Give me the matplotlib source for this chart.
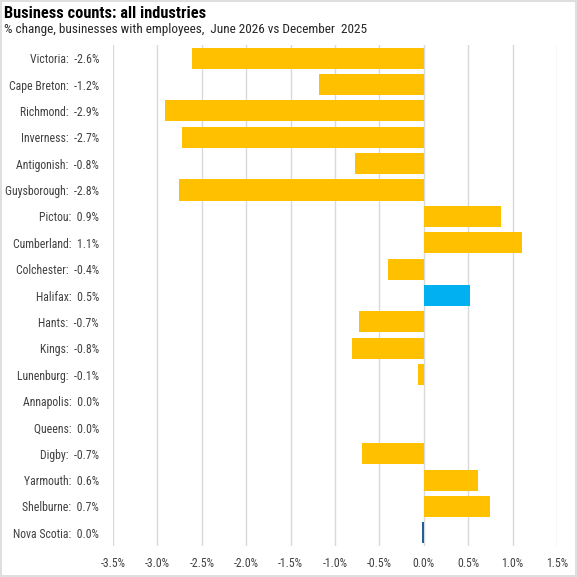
import matplotlib
matplotlib.use("Agg")
from matplotlib import pyplot as plt
from matplotlib.ticker import FuncFormatter

regions = ["Victoria", "Cape Breton", "Richmond", "Inverness", "Antigonish",
           "Guysborough", "Pictou", "Cumberland", "Colchester", "Halifax",
           "Hants", "Kings", "Lunenburg", "Annapolis", "Queens", "Digby",
           "Yarmouth", "Shelburne", "Nova Scotia"]
pct_change = [-2.61, -1.18, -2.91, -2.72, -0.77, -2.76, 0.87, 1.11, -0.40, 0.52,
              -0.73, -0.81, -0.06, 0.0, 0.0, -0.70, 0.61, 0.74, -0.02]
shown = [-2.6, -1.2, -2.9, -2.7, -0.8, -2.8, 0.9, 1.1, -0.4, 0.5,
         -0.7, -0.8, -0.1, 0.0, 0.0, -0.7, 0.6, 0.7, 0.0]
x_ticks = [-3.5, -3.0, -2.5, -2.0, -1.5, -1.0, -0.5, 0.0, 0.5, 1.0, 1.5]

plt.rcParams['font.family'] = ['Liberation Sans Narrow', 'Roboto Condensed', 'DejaVu Sans']
plt.rcParams['font.stretch'] = 'condensed'

colors = []
for r in regions:
    if r == "Halifax":
        colors.append("#00B0F0")
    elif r == "Nova Scotia":
        colors.append("#1F5F9E")
    else:
        colors.append("#FFC000")

fig = plt.figure(figsize=(5.77, 5.77), dpi=100)
ax = fig.add_axes([113/577, 1 - 546/577, 444/577, 501/577])

ypos = list(range(len(regions)))
ax.barh(ypos, pct_change, height=0.8, color=colors, zorder=3)
ax.set_ylim(len(regions) - 0.5, -0.5)
ax.set_xlim(-3.5, 1.5)
ax.set_xticks(x_ticks)
ax.xaxis.set_major_formatter(FuncFormatter(lambda v, p: f"{v:.1f}%"))
ax.set_yticks(ypos)
ax.set_yticklabels([f"{r}:  {v:.1f}%" for r, v in zip(regions, shown)])
ax.tick_params(length=0, labelsize=8.5, colors="#404040")
ax.tick_params(axis="x", pad=8)
ax.tick_params(axis="y", pad=10)
ax.grid(axis="x", color="#D9D9D9", linewidth=1, zorder=0)
for s in ax.spines.values():
    s.set_visible(False)

fig.text(4/577, 1 - 14/577, "Business counts: all industries", fontsize=11.8,
         fontweight="bold", va="center", ha="left")
fig.text(4/577, 1 - 30/577, "% change, businesses with employees,  June 2026 vs December  2025",
         fontsize=9.5, va="center", ha="left", color="#262626")

border = plt.Rectangle((0.001, 0.001), 0.998, 0.998, transform=fig.transFigure,
                       fill=False, edgecolor="#D9D9D9", linewidth=1.2)
fig.patches.append(border)

fig.savefig("out.png", dpi=100)
